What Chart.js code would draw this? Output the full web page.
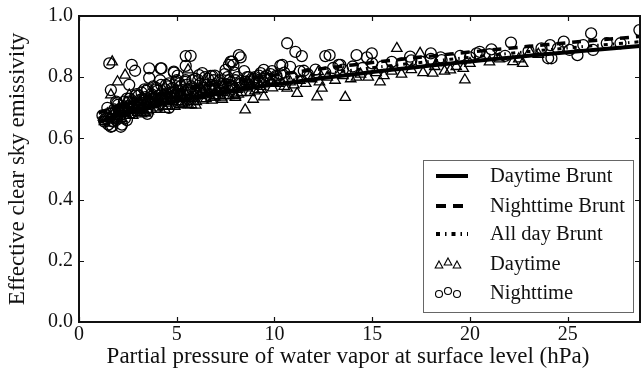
<!DOCTYPE html>
<html>
<head>
<meta charset="utf-8">
<script src="https://cdn.jsdelivr.net/npm/chart.js@4/dist/chart.umd.min.js"></script>
<style>
  html, body { margin: 0; padding: 0; background: #fff; overflow: hidden; }
  #wrap { width: 643px; height: 378px; position: relative; }
  #chart { display: block; }
</style>
</head>
<body>
<div id="wrap"><canvas id="chart"></canvas></div>
<script>
// Brunt fits
const curveX = [1, 1.5, 2, 3, 4, 5, 6, 8, 10, 12, 14, 16, 18, 20, 22, 24, 26, 28.7];
const dayBrunt = [0.6515, 0.6644, 0.6753, 0.6936, 0.709, 0.7226, 0.7348, 0.7566, 0.7758, 0.7932, 0.8091, 0.824, 0.8379, 0.8511, 0.8637, 0.8757, 0.8872, 0.902];
const nightBrunt = [0.6825, 0.6954, 0.7063, 0.7246, 0.740, 0.7536, 0.7658, 0.7876, 0.8068, 0.8242, 0.8401, 0.855, 0.8689, 0.8821, 0.8947, 0.9067, 0.9182, 0.933];
const allBrunt = [0.6655, 0.6784, 0.6893, 0.7076, 0.723, 0.7366, 0.7488, 0.7706, 0.7898, 0.8072, 0.8231, 0.838, 0.8519, 0.8651, 0.8777, 0.8897, 0.9012, 0.916];

// Daytime observations (triangles)
const dayX = [1.3, 1.5, 1.6, 1.8, 1.9, 2.0, 2.1, 2.2, 2.3, 2.4, 2.5, 2.6, 2.7, 2.8, 2.9, 3.0, 3.1, 3.2, 3.3, 3.4,
  3.5, 3.6, 3.7, 3.8, 3.9, 4.0, 4.1, 4.2, 4.3, 4.4, 4.5, 4.6, 4.7, 4.8, 4.9, 5.0, 5.1, 5.2, 5.3, 5.4,
  5.5, 5.6, 5.8, 5.9, 6.0, 6.2, 6.3, 6.5, 6.6, 6.8, 7.0, 7.1, 7.3, 7.5, 7.7, 7.9, 8.1, 8.3, 8.6, 8.8,
  9.0, 9.3, 9.6, 9.9, 10.2, 10.5, 10.8, 11.0, 11.3, 11.6, 11.9, 12.3, 12.7, 13.1, 13.5, 13.9, 14.4, 14.8, 15.2, 15.6,
  16.0, 16.5, 17.0, 17.6, 18.2, 18.7, 19.3, 20.0, 21.0, 21.5, 22.5, 23.5,
  1.7, 2.36, 1.97, 1.63, 2.57, 3.42, 5.58, 8.5, 8.91, 9.45, 11.16, 12.18, 12.43, 13.62, 10.65, 12.24,
  14.2, 16.26, 17.45, 15.4, 18.1, 19.0, 19.66, 19.74, 22.2, 22.7, 23.06, 8.0, 7.33, 5.97,
  2.05, 2.35, 2.65, 2.95, 3.15, 3.45, 3.75, 4.05, 4.35, 4.65, 4.95, 5.25, 5.55, 5.85, 6.15, 6.45,
  6.75, 7.05, 7.35, 7.65, 7.95, 8.4, 9.2, 9.8, 1.45, 1.75, 2.15, 3.55, 4.55, 5.75,
  1.25, 1.55, 1.85, 2.15, 2.45, 2.75, 3.05, 3.35, 3.65, 3.95, 4.25, 4.55, 4.85, 5.15, 5.45, 5.75,
  6.05, 6.35, 6.65, 6.95, 7.25, 7.55, 7.85, 8.15, 8.45, 8.75, 9.05, 9.35, 2.0, 2.6, 3.2, 3.8,
  4.4, 5.0, 5.6, 6.2, 6.8, 7.4, 8.0, 8.6];
const dayY = [0.655, 0.665, 0.67, 0.66, 0.68, 0.672, 0.69, 0.665, 0.70, 0.68, 0.695, 0.675, 0.71, 0.69, 0.70, 0.685, 0.72, 0.70, 0.69, 0.715,
  0.705, 0.725, 0.695, 0.71, 0.72, 0.70, 0.73, 0.715, 0.705, 0.725, 0.74, 0.715, 0.73, 0.72, 0.705, 0.735, 0.72, 0.745, 0.73, 0.715,
  0.74, 0.725, 0.735, 0.75, 0.72, 0.74, 0.755, 0.73, 0.745, 0.76, 0.74, 0.75, 0.735, 0.755, 0.765, 0.745, 0.76, 0.75, 0.765, 0.775,
  0.755, 0.77, 0.78, 0.765, 0.78, 0.77, 0.785, 0.775, 0.79, 0.78, 0.795, 0.785, 0.80, 0.79, 0.805, 0.795, 0.81, 0.80, 0.815, 0.805,
  0.82, 0.81, 0.825, 0.815, 0.835, 0.82, 0.835, 0.845, 0.85, 0.86, 0.86, 0.875,
  0.85, 0.807, 0.785, 0.742, 0.742, 0.683, 0.824, 0.693, 0.728, 0.736, 0.747, 0.736, 0.764, 0.734, 0.764, 0.818,
  0.80, 0.894, 0.878, 0.785, 0.813, 0.824, 0.829, 0.791, 0.851, 0.845, 0.883, 0.734, 0.728, 0.709,
  0.70, 0.685, 0.70, 0.715, 0.695, 0.725, 0.715, 0.72, 0.735, 0.725, 0.745, 0.715, 0.75, 0.73, 0.745, 0.76,
  0.735, 0.76, 0.75, 0.74, 0.77, 0.77, 0.76, 0.79, 0.68, 0.69, 0.71, 0.69, 0.705, 0.71,
  0.67, 0.65, 0.69, 0.665, 0.70, 0.675, 0.71, 0.685, 0.72, 0.695, 0.73, 0.705, 0.74, 0.71, 0.745, 0.72,
  0.75, 0.725, 0.755, 0.735, 0.765, 0.74, 0.77, 0.745, 0.775, 0.75, 0.78, 0.76, 0.66, 0.72, 0.68, 0.74,
  0.695, 0.755, 0.71, 0.765, 0.725, 0.775, 0.74, 0.785];

// Nighttime observations (circles)
const nightX = [1.4, 1.5, 1.6, 1.7, 1.8, 1.9, 2.0, 2.1, 2.2, 2.3, 2.4, 2.5, 2.6, 2.7, 2.8, 2.9, 3.0, 3.1, 3.2, 3.3,
  3.4, 3.5, 3.6, 3.7, 3.8, 3.9, 4.0, 4.1, 4.2, 4.3, 4.4, 4.5, 4.6, 4.7, 4.8, 4.9, 5.0, 5.1, 5.2, 5.3,
  5.5, 5.6, 5.8, 6.0, 6.2, 6.4, 6.6, 6.8, 7.0, 7.2, 7.4, 7.6, 7.8, 8.0, 8.3, 8.6, 8.9, 9.2, 9.5, 9.8,
  10.1, 10.5, 10.9, 11.3, 11.7, 12.1, 12.6, 13.0, 13.5, 14.0, 14.5, 15.0, 15.5, 16.0, 16.5, 17.0, 17.5, 18.0, 18.5, 19.0,
  19.5, 20.0, 21.0, 21.8, 23.0,
  1.55, 2.7, 2.87, 3.59, 4.22, 3.59, 2.57, 1.63, 4.86, 5.46, 5.46, 5.42, 1.63, 2.14, 5.71, 8.27,
  7.76, 7.9, 10.65, 11.07, 11.4, 12.6, 12.82, 14.2, 13.37, 10.3, 9.88, 9.45, 6.82, 6.31, 4.18, 4.85,
  14.73, 10.4, 10.8, 13.28, 11.5, 14.98, 18.0, 16.94, 18.55, 20.34, 20.5, 21.1, 22.1, 23.66, 24.0, 24.1,
  24.17, 24.5, 24.8, 25.1, 25.5, 25.8, 26.2, 26.3, 27.0, 27.7, 28.67, 6.14, 7.67, 7.84, 8.18, 7.5,
  8.69, 9.29, 6.73,
  1.9, 2.25, 2.55, 2.85, 3.05, 3.35, 3.65, 3.95, 4.25, 4.55, 4.85, 5.15, 5.45, 5.75, 6.1, 6.5,
  6.9, 7.3, 7.7, 8.1, 8.5, 9.0, 9.6, 10.3, 1.75, 2.05, 2.45, 3.25, 4.15, 5.05,
  1.2, 1.45, 1.7, 1.95, 2.2, 2.45, 2.7, 2.95, 3.2, 3.45, 3.7, 3.95, 4.2, 4.45, 4.7, 4.95,
  5.2, 5.45, 5.7, 5.95, 6.2, 6.45, 6.7, 6.95, 7.2, 7.45, 7.7, 7.95, 8.2, 8.45, 8.7, 8.95,
  9.2, 9.5, 9.8, 10.1, 1.3, 2.35, 3.5, 4.6];
const nightY = [0.665, 0.645, 0.68, 0.64, 0.695, 0.66, 0.71, 0.675, 0.645, 0.72, 0.69, 0.705, 0.73, 0.685, 0.715, 0.74, 0.70, 0.725, 0.75, 0.715,
  0.735, 0.76, 0.72, 0.745, 0.77, 0.73, 0.755, 0.74, 0.775, 0.73, 0.76, 0.745, 0.78, 0.75, 0.765, 0.74, 0.79, 0.755, 0.77, 0.745,
  0.775, 0.76, 0.79, 0.755, 0.78, 0.765, 0.795, 0.775, 0.765, 0.79, 0.78, 0.80, 0.77, 0.79, 0.78, 0.80, 0.79, 0.805, 0.795, 0.81,
  0.80, 0.815, 0.80, 0.82, 0.81, 0.825, 0.815, 0.83, 0.825, 0.835, 0.83, 0.845, 0.835, 0.85, 0.845, 0.855, 0.85, 0.86, 0.865, 0.86,
  0.87, 0.865, 0.875, 0.87, 0.885,
  0.845, 0.84, 0.821, 0.829, 0.829, 0.798, 0.775, 0.758, 0.815, 0.869, 0.837, 0.785, 0.638, 0.638, 0.870, 0.865,
  0.851, 0.84, 0.911, 0.883, 0.869, 0.869, 0.872, 0.872, 0.84, 0.838, 0.82, 0.824, 0.804, 0.813, 0.829, 0.818,
  0.865, 0.84, 0.834, 0.84, 0.821, 0.878, 0.878, 0.867, 0.856, 0.878, 0.883, 0.891, 0.913, 0.894, 0.862, 0.905,
  0.862, 0.894, 0.916, 0.889, 0.872, 0.905, 0.943, 0.889, 0.911, 0.911, 0.954, 0.807, 0.84, 0.851, 0.872, 0.824,
  0.80, 0.813, 0.804,
  0.72, 0.70, 0.72, 0.70, 0.74, 0.76, 0.735, 0.76, 0.745, 0.77, 0.75, 0.78, 0.76, 0.77, 0.79, 0.775,
  0.79, 0.77, 0.79, 0.80, 0.785, 0.80, 0.805, 0.81, 0.655, 0.69, 0.66, 0.73, 0.79, 0.805,
  0.675, 0.70, 0.685, 0.715, 0.69, 0.73, 0.70, 0.745, 0.71, 0.755, 0.72, 0.765, 0.73, 0.775, 0.735, 0.785,
  0.745, 0.79, 0.75, 0.795, 0.76, 0.80, 0.765, 0.805, 0.77, 0.81, 0.775, 0.815, 0.78, 0.82, 0.785, 0.795,
  0.79, 0.80, 0.795, 0.805, 0.655, 0.665, 0.68, 0.70];

const xTicks = [0, 5, 10, 15, 20, 25];
const yTicks = [0, 0.2, 0.4, 0.6, 0.8, 1.0];

const legendItems = ['Daytime Brunt', 'Nighttime Brunt', 'All day Brunt', 'Daytime', 'Nighttime'];

const SERIF = '"Liberation Serif", "DejaVu Serif", serif';

function pts(xs, ys) {
  return xs.map((x, i) => ({ x: x, y: ys[i] }));
}

// Frame with inward ticks on all four sides, like the original figure
const framePlugin = {
  id: 'frame',
  afterDatasetsDraw(chart) {
    const { ctx, chartArea: a, scales } = chart;
    ctx.save();
    ctx.strokeStyle = '#111';
    ctx.lineWidth = 1.2;
    xTicks.forEach(v => {
      const px = Math.round(scales.x.getPixelForValue(v)) + 0.5;
      ctx.beginPath();
      ctx.moveTo(px, a.bottom); ctx.lineTo(px, a.bottom - 5);
      ctx.moveTo(px, a.top); ctx.lineTo(px, a.top + 5);
      ctx.stroke();
    });
    yTicks.forEach(v => {
      const py = Math.round(scales.y.getPixelForValue(v)) + 0.5;
      ctx.beginPath();
      ctx.moveTo(a.left, py); ctx.lineTo(a.left + 5, py);
      ctx.moveTo(a.right, py); ctx.lineTo(a.right - 5, py);
      ctx.stroke();
    });
    ctx.lineWidth = 2;
    ctx.strokeRect(a.left, a.top, a.right - a.left, a.bottom - a.top);
    ctx.restore();
  }
};

function tri(ctx, x, y, r) {
  ctx.beginPath();
  ctx.moveTo(x, y - r);
  ctx.lineTo(x + r * 0.95, y + r * 0.75);
  ctx.lineTo(x - r * 0.95, y + r * 0.75);
  ctx.closePath();
  ctx.stroke();
}

// Legend box drawn in the lower right like the reference
const legendPlugin = {
  id: 'boxLegend',
  afterDraw(chart) {
    const ctx = chart.ctx;
    const bx = 423, by = 160, bw = 210, bh = 152;
    const rows = [176, 206, 234, 264, 293];
    ctx.save();
    ctx.fillStyle = '#fff';
    ctx.fillRect(bx, by, bw, bh);
    ctx.strokeStyle = '#666';
    ctx.lineWidth = 1;
    ctx.strokeRect(bx + 0.5, by + 0.5, bw, bh);

    ctx.strokeStyle = '#000';
    const dashes = [[], [10, 7], [4, 5, 1.5, 5]];
    for (let i = 0; i < 3; i++) {
      ctx.beginPath();
      ctx.lineWidth = 4;
      ctx.setLineDash(dashes[i]);
      ctx.moveTo(436, rows[i]);
      ctx.lineTo(468, rows[i]);
      ctx.stroke();
    }
    ctx.setLineDash([]);
    ctx.lineWidth = 1.1;
    [[437, 1], [446, -2], [455, 1]].forEach(([x, dy]) => tri(ctx, x + 2, rows[3] + dy, 4));
    [[439, 1], [448, -2], [457, 1]].forEach(([x, dy]) => {
      ctx.beginPath();
      ctx.arc(x, rows[4] + dy, 3.5, 0, Math.PI * 2);
      ctx.stroke();
    });

    ctx.fillStyle = '#111';
    ctx.font = '20.5px ' + SERIF;
    ctx.textBaseline = 'middle';
    legendItems.forEach((t, i) => ctx.fillText(t, 490, rows[i] + 1));
    ctx.restore();
  }
};

new Chart(document.getElementById('chart'), {
  type: 'scatter',
  data: {
    datasets: [
      {
        type: 'line', label: legendItems[0], data: pts(curveX, dayBrunt),
        borderColor: '#000', borderWidth: 4, pointRadius: 0, tension: 0.4, fill: false
      },
      {
        type: 'line', label: legendItems[1], data: pts(curveX, nightBrunt),
        borderColor: '#000', borderWidth: 3.5, borderDash: [9, 7], pointRadius: 0, tension: 0.4, fill: false
      },
      {
        type: 'line', label: legendItems[2], data: pts(curveX, allBrunt),
        borderColor: '#000', borderWidth: 3, borderDash: [4, 5, 1.5, 5], pointRadius: 0, tension: 0.4, fill: false
      },
      {
        label: legendItems[3], data: pts(dayX, dayY),
        pointStyle: 'triangle', pointRadius: 6, borderColor: '#000', borderWidth: 1.3,
        backgroundColor: 'rgba(0,0,0,0)'
      },
      {
        label: legendItems[4], data: pts(nightX, nightY),
        pointStyle: 'circle', pointRadius: 5.5, borderColor: '#000', borderWidth: 1.3,
        backgroundColor: 'rgba(0,0,0,0)'
      }
    ]
  },
  options: {
    responsive: true,
    maintainAspectRatio: false,
    animation: false,
    layout: { autoPadding: false, padding: { top: 16, right: 3, left: 0, bottom: 0 } },
    plugins: { legend: { display: false }, tooltip: { enabled: false } },
    scales: {
      x: {
        type: 'linear', min: 0, max: 28.7,
        grid: { display: false, drawTicks: false }, border: { display: false },
        afterFit(s) { s.height = 56; s.paddingLeft = 0; s.paddingRight = 0; },
        ticks: {
          stepSize: 5, includeBounds: false, padding: 1, color: '#111',
          font: { family: SERIF, size: 20 }
        },
        title: {
          display: true, text: 'Partial pressure of water vapor at surface level (hPa)\u2003',
          color: '#111', font: { family: SERIF, size: 23 }, padding: { top: 0, bottom: 7 }
        }
      },
      y: {
        type: 'linear', min: 0, max: 1.0,
        grid: { display: false, drawTicks: false }, border: { display: false },
        afterFit(s) { s.width = 79; s.paddingTop = 0; s.paddingBottom = 0; },
        ticks: {
          stepSize: 0.2, padding: 6, color: '#111',
          font: { family: SERIF, size: 20 },
          callback: v => Number(v).toFixed(1)
        },
        title: {
          display: true, text: 'Effective clear sky emissivity',
          color: '#111', font: { family: SERIF, size: 23 }, padding: { top: 4, bottom: 0 }
        }
      }
    }
  },
  plugins: [framePlugin, legendPlugin]
});
</script>
</body>
</html>
